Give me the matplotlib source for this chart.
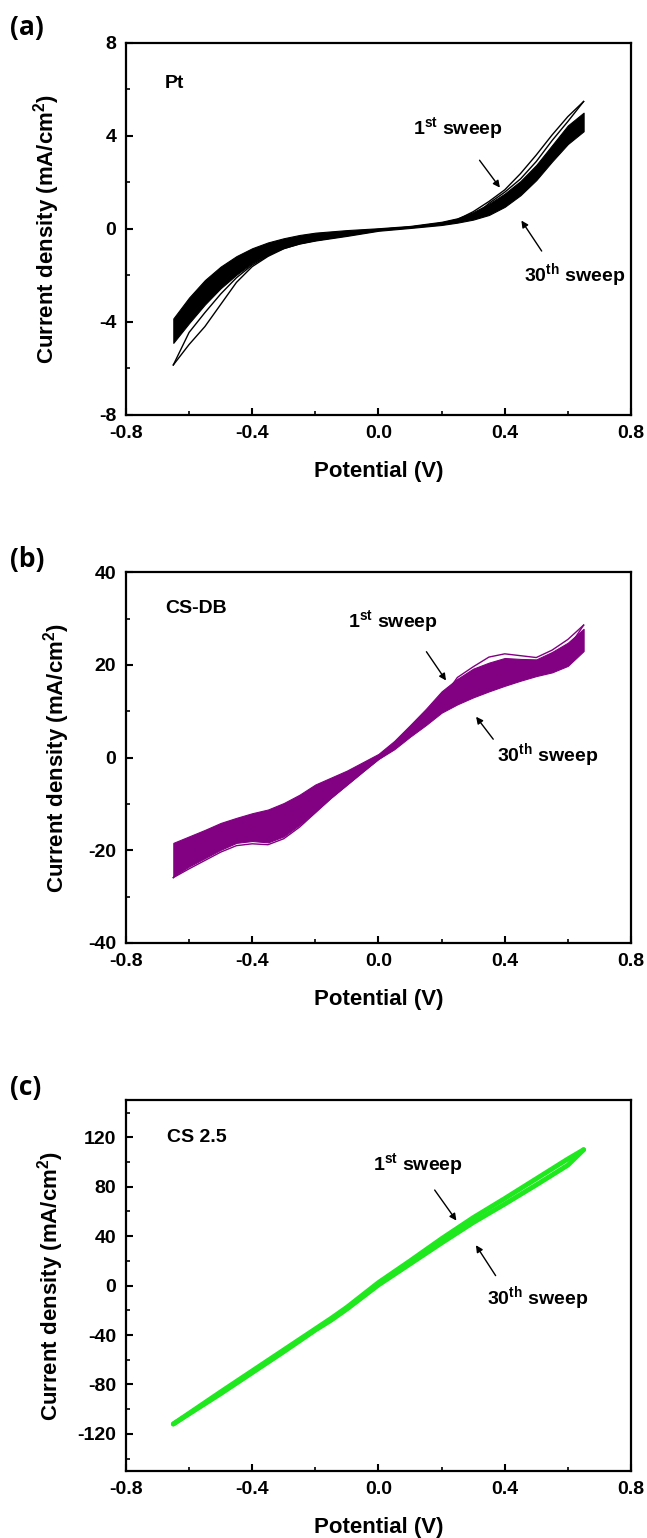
import numpy as np
import matplotlib
matplotlib.use('Agg')
import matplotlib.pyplot as plt
from matplotlib.ticker import MultipleLocator

plt.rcParams['font.family'] = ['Liberation Sans', 'DejaVu Sans']
plt.rcParams['font.weight'] = 'bold'
plt.rcParams['axes.unicode_minus'] = False
plt.rcParams['mathtext.fontset'] = 'custom'
plt.rcParams['mathtext.rm'] = 'Liberation Sans:bold'
plt.rcParams['mathtext.bf'] = 'Liberation Sans:bold'
plt.rcParams['mathtext.it'] = 'Liberation Sans:bold'

# ---- (a) Pt ----
Va = [-0.65, -0.6, -0.55, -0.5, -0.45, -0.4, -0.35, -0.3, -0.25, -0.2, -0.1, 0.0,
      0.1, 0.2, 0.25, 0.3, 0.35, 0.4, 0.45, 0.5, 0.55, 0.6, 0.65]
a_band_top = [-3.85, -2.95, -2.2, -1.62, -1.17, -0.83, -0.58, -0.40, -0.26, -0.16, -0.05, 0.03,
              0.13, 0.31, 0.46, 0.72, 1.08, 1.52, 2.06, 2.75, 3.6, 4.45, 5.0]
a_band_bot = [-4.9, -4.05, -3.25, -2.55, -1.97, -1.47, -1.10, -0.82, -0.63, -0.50, -0.30, -0.08,
              0.04, 0.17, 0.27, 0.40, 0.60, 0.95, 1.45, 2.10, 2.90, 3.65, 4.2]
a_first_up = [-5.85, -4.45, -3.6, -2.8, -2.1, -1.55, -1.15, -0.7, -0.5, -0.35, -0.18, -0.02,
              0.08, 0.25, 0.40, 0.74, 1.18, 1.68, 2.38, 3.18, 4.04, 4.83, 5.48]
a_first_dn = [-5.85, -4.97, -4.2, -3.25, -2.3, -1.62, -1.18, -0.85, -0.64, -0.50, -0.28, -0.06,
              0.06, 0.2, 0.3, 0.5, 1.1, 1.58, 2.15, 2.9, 3.8, 4.62, 5.48]

# ---- (b) CS-DB ----
Vb = [-0.65, -0.6, -0.55, -0.5, -0.45, -0.4, -0.35, -0.3, -0.25, -0.2, -0.15, -0.1, -0.05, 0.0,
      0.05, 0.1, 0.15, 0.2, 0.25, 0.3, 0.35, 0.4, 0.45, 0.5, 0.55, 0.6, 0.65]
b_band_top = [-18.4, -17.0, -15.6, -14.1, -13.0, -12.0, -11.2, -9.8, -8.0, -5.8, -4.3, -2.8, -1.0, 0.8,
              3.6, 7.0, 10.5, 14.3, 17.0, 19.2, 20.5, 21.5, 21.3, 21.2, 22.8, 24.8, 27.8]
b_band_bot = [-25.6, -23.5, -21.7, -19.9, -18.4, -18.0, -18.3, -17.0, -14.5, -11.6, -8.6, -5.8, -3.0, -0.3,
              1.8, 4.5, 7.0, 9.7, 11.5, 13.0, 14.3, 15.5, 16.6, 17.6, 18.4, 19.8, 23.0]
b_first_up = [-25.9, -21.0, -19.0, -17.0, -15.5, -14.5, -14.0, -12.5, -10.5, -8.0, -6.0, -4.0, -1.8, 0.3,
              2.8, 6.0, 9.0, 12.5, 17.3, 19.6, 21.7, 22.4, 22.0, 21.6, 23.2, 25.5, 28.6]
b_first_dn = [-25.9, -24.0, -22.2, -20.4, -19.0, -18.6, -18.8, -17.5, -15.0, -11.9, -8.8, -6.0, -3.2, -0.4,
              2.0, 5.0, 8.0, 11.0, 13.5, 15.5, 17.0, 18.0, 18.5, 19.5, 21.0, 23.5, 28.6]

# ---- (c) CS 2.5 ----
Vc = [-0.65, -0.5, -0.4, -0.3, -0.2, -0.15, -0.1, 0.0, 0.1, 0.2, 0.3, 0.4, 0.5, 0.6, 0.65]
c_fwd = [-112, -86, -69, -52, -35, -26.5, -17.5, 2.5, 20, 38, 55, 70.5, 86.5, 102.5, 110]
c_rev = [-112, -87.5, -70.5, -53.5, -36, -28, -19, 0.5, 17.5, 34.5, 51, 66, 81.5, 97.5, 110]

black = 'black'
purple = '#820082'
green = '#1fe81f'

fig = plt.figure(figsize=(6.47, 15.38), dpi=100)
L, W, H = 0.1947, 0.7805, 0.2410
axa = fig.add_axes([L, 0.7302, W, 0.2419])
axb = fig.add_axes([L, 0.3869, W, H])
axc = fig.add_axes([L, 0.0436, W, H])

ylab = r'Current density (mA/cm$^{\mathrm{2}}$)'
st = r'1$^{\mathrm{st}}$ sweep'
th = r'30$^{\mathrm{th}}$ sweep'


def style(ax, ylim, ymaj, ymin, ylx):
    ax.set_xlim(-0.8, 0.8)
    ax.set_ylim(*ylim)
    ax.xaxis.set_major_locator(MultipleLocator(0.4))
    ax.xaxis.set_minor_locator(MultipleLocator(0.2))
    ax.yaxis.set_major_locator(MultipleLocator(ymaj))
    ax.yaxis.set_minor_locator(MultipleLocator(ymin))
    ax.xaxis.set_major_formatter(matplotlib.ticker.FormatStrFormatter('%.1f'))
    ax.tick_params(which='both', direction='in', top=False, right=False, labelsize=14)
    ax.tick_params(which='major', length=5, width=1.5, pad=7)
    ax.tick_params(which='minor', length=3, width=1.2)
    for s in ax.spines.values():
        s.set_linewidth(1.6)
    ax.set_xlabel('Potential (V)', fontsize=16, fontweight='bold')
    ax.set_ylabel(ylab, fontsize=16, fontweight='bold')
    ax.xaxis.set_label_coords(0.5, -0.125)
    ax.yaxis.set_label_coords(ylx, 0.5)


arrow = dict(arrowstyle='-|>', color=black, lw=1.0, mutation_scale=10)

# (a)
style(axa, (-8, 8), 4, 2, -0.127)
axa.fill_between(Va, a_band_bot, a_band_top, color=black, lw=0.8)
axa.plot(Va, a_first_up, color=black, lw=1.0)
axa.plot(Va, a_first_dn, color=black, lw=1.0)
axa.text(-0.676, 6.24, 'Pt', fontsize=14, va='center')
axa.text(0.11, 4.34, st, fontsize=14, va='center')
axa.annotate('', xy=(0.39, 1.68), xytext=(0.315, 3.05), arrowprops=arrow)
axa.text(0.46, -1.98, th, fontsize=14, va='center')
axa.annotate('', xy=(0.448, 0.46), xytext=(0.522, -1.05), arrowprops=arrow)

# (b)
style(axb, (-40, 40), 20, 10, -0.107)
axb.fill_between(Vb, b_band_bot, b_band_top, color=purple, lw=0.8)
axb.plot(Vb, b_first_up, color=purple, lw=1.0)
axb.plot(Vb, b_first_dn, color=purple, lw=1.0)
axb.text(-0.676, 32.2, 'CS-DB', fontsize=14, va='center')
axb.text(-0.095, 29.5, st, fontsize=14, va='center')
axb.annotate('', xy=(0.219, 16.15), xytext=(0.147, 23.35), arrowprops=arrow)
axb.text(0.376, 0.65, th, fontsize=14, va='center')
axb.annotate('', xy=(0.304, 9.3), xytext=(0.369, 3.5), arrowprops=arrow)

# (c)
style(axc, (-150, 150), 40, 20, -0.119)
axc.plot(Vc, c_fwd, color=green, lw=3.5, solid_capstyle='round')
axc.plot(Vc, c_rev, color=green, lw=3.5, solid_capstyle='round')
axc.text(-0.67, 120, 'CS 2.5', fontsize=14, va='center')
axc.text(-0.016, 98.1, st, fontsize=14, va='center')
axc.annotate('', xy=(0.252, 50.8), xytext=(0.173, 79.2), arrowprops=arrow)
axc.text(0.343, -10, th, fontsize=14, va='center')
axc.annotate('', xy=(0.304, 34.6), xytext=(0.376, 6.2), arrowprops=arrow)

# panel letters
for lab, yy in [('(a)', 28), ('(b)', 560), ('(c)', 1088)]:
    fig.text(10 / 647, 1 - yy / 1538, lab, fontsize=19, fontweight='bold',
             family=['Open Sans', 'DejaVu Sans'], va='center', ha='left')

fig.savefig('out.png', dpi=100)
